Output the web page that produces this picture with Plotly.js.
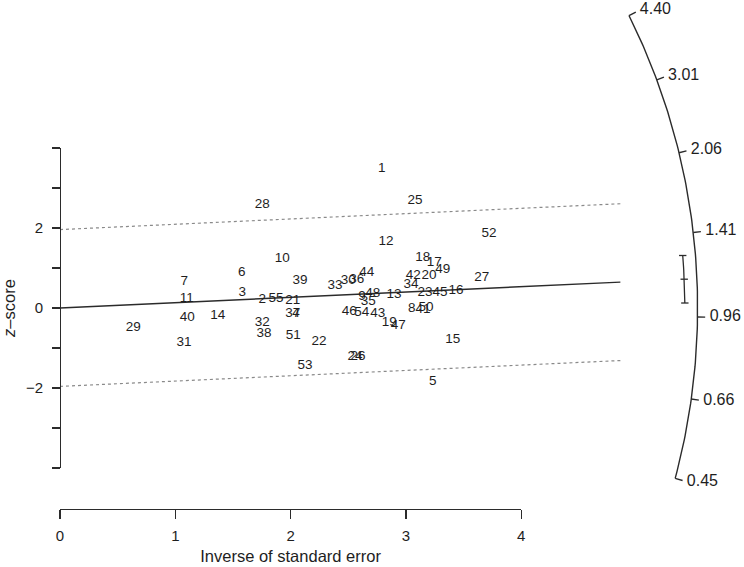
<!DOCTYPE html>
<html><head><meta charset="utf-8">
<script src="https://cdn.plot.ly/plotly-3.0.1.min.js"></script>
<style>html,body{margin:0;padding:0;background:#fff}</style>
</head><body><div id="chart" style="width:744px;height:567px"></div>
<script>
// ---- data ----
const studyIds = ["1","2","3","4","5","6","7","8","9","10","11","12","13","14","15","16","17","18","19","20",
  "21","22","23","24","25","26","27","28","29","30","31","32","33","34","35","36","37","38","39","40",
  "41","42","43","44","45","46","47","48","49","50","51","52","53","54","55"];
const invSE = [2.790,1.755,1.581,2.047,3.232,1.576,1.078,3.050,2.619,1.928,1.099,2.827,2.897,1.368,3.406,3.434,3.246,3.146,2.856,3.200,
  2.018,2.246,3.166,2.559,3.079,2.585,3.657,1.755,0.636,2.500,1.075,1.755,2.385,3.044,2.674,2.573,2.018,1.769,2.082,1.104,
  3.148,3.064,2.755,2.660,3.296,2.509,2.934,2.712,3.319,3.174,2.023,3.721,2.125,2.617,1.873];
const zScore = [3.49,0.20,0.39,-0.13,-1.83,0.88,0.66,-0.01,0.28,1.23,0.24,1.66,0.33,-0.18,-0.78,0.43,1.13,1.27,-0.36,0.81,
  0.18,-0.84,0.38,-1.22,2.68,-1.22,0.77,2.59,-0.49,0.68,-0.87,-0.37,0.56,0.58,0.16,0.70,-0.13,-0.63,0.68,-0.23,
  -0.04,0.81,-0.15,0.88,0.38,-0.09,-0.44,0.35,0.97,0.02,-0.68,1.87,-1.45,-0.11,0.24];
const pooledLogOR = 0.133;          // slope of the solid line
const pooledCI = [0.023, 0.243];    // CI of the pooled estimate (log scale)
const zCrit = 1.96;
const xTickVals = [0,1,2,3,4];
const yTickVals = [-4,-3,-2,-1,0,1,2,3,4];
const yTickText = ["","","\u22122","","0","","2","",""];
const arcTickLabels = ["4.40","3.01","2.06","1.41","0.96","0.66","0.45"];

// ---- geometry (layout constants) ----
const W = 744, H = 567;
const pxPerX = 115.3, pxPerY = 40, x0px = 60, y0px = 308;
const xRange = [-x0px/pxPerX, (W-x0px)/pxPerX];
const yRange = [-(H-y0px)/pxPerY, y0px/pxPerY];
const lineEnd = 4.86;
const arcA = 5.53, arcB = 16.2;     // arc semi-axes in data units
function arcPoint(slope, k){ const t = Math.atan(slope*arcA/arcB); return [k*arcA*Math.cos(t), k*arcB*Math.sin(t)]; }

const arcTickVals = arcTickLabels.map(Number).map(Math.log);
const sMin = Math.min(...arcTickVals), sMax = Math.max(...arcTickVals);
const arcX = [], arcY = [];
for (let i=0;i<=120;i++){ const p = arcPoint(sMax + (sMin-sMax)*i/120, 1); arcX.push(p[0]); arcY.push(p[1]); }
const tickX = [], tickY = [], labX = [], labY = [];
arcTickVals.forEach(s=>{ const a=arcPoint(s,1), b=arcPoint(s,1.012), c=arcPoint(s,1.019);
  tickX.push(a[0],b[0],null); tickY.push(a[1],b[1],null); labX.push(c[0]); labY.push(c[1]); });
// CI marker
const kCI = 0.98, capHalf = 0.032;
const ciX = [], ciY = [];
for (let i=0;i<=20;i++){ const p = arcPoint(pooledCI[0] + (pooledCI[1]-pooledCI[0])*i/20, kCI); ciX.push(p[0]); ciY.push(p[1]); }
ciX.push(null); ciY.push(null);
[pooledCI[0], pooledLogOR, pooledCI[1]].forEach(s=>{ const p = arcPoint(s,kCI); ciX.push(p[0]-capHalf,p[0]+capHalf,null); ciY.push(p[1],p[1],null); });

const font = "Liberation Sans, Arial, Helvetica, sans-serif";
const ink = "#2b2b2b";
const traces = [
  {x:[0,lineEnd], y:[zCrit, zCrit+pooledLogOR*lineEnd], mode:"lines", line:{color:"#8a8a8a", width:1.2, dash:"dot"}, hoverinfo:"skip"},
  {x:[0,lineEnd], y:[-zCrit, -zCrit+pooledLogOR*lineEnd], mode:"lines", line:{color:"#8a8a8a", width:1.2, dash:"dot"}, hoverinfo:"skip"},
  {x:[0,lineEnd], y:[0, pooledLogOR*lineEnd], mode:"lines", line:{color:ink, width:1.4}, hoverinfo:"skip"},
  {x:invSE, y:zScore, text:studyIds, mode:"text", textfont:{family:font, size:13.5, color:"#1e1e1e"}, cliponaxis:false},
  {x:arcX, y:arcY, mode:"lines", line:{color:ink, width:1.4}, hoverinfo:"skip"},
  {x:tickX, y:tickY, mode:"lines", line:{color:ink, width:1.4}, hoverinfo:"skip"},
  {x:labX, y:labY, text:arcTickLabels, mode:"text", textposition:"middle right", textfont:{family:font, size:16, color:"#1e1e1e"}, cliponaxis:false},
  {x:ciX, y:ciY, mode:"lines", line:{color:ink, width:1.3}, hoverinfo:"skip"},
  {x:[], y:[], xaxis:"x2", yaxis:"y2", mode:"markers"}
];
const layout = {
  width:W, height:H, margin:{l:0,r:0,t:0,b:0}, showlegend:false,
  paper_bgcolor:"#fff", plot_bgcolor:"rgba(0,0,0,0)",
  font:{family:font, color:"#1e1e1e", size:15},
  xaxis:{range:xRange, domain:[0,1], visible:false, fixedrange:true},
  yaxis:{range:yRange, domain:[0,1], visible:false, fixedrange:true},
  xaxis2:{range:[0,4], domain:[x0px/W, (x0px+4*pxPerX)/W], anchor:"free", position:(H-509)/H,
    showline:true, linecolor:ink, linewidth:1.4, ticks:"outside", ticklen:9, tickwidth:1.4, tickcolor:ink,
    tickvals:xTickVals, showgrid:false, zeroline:false, tickfont:{size:15}, ticklabelstandoff:4,
    title:{text:"Inverse of standard error", font:{size:16.5}, standoff:7}},
  yaxis2:{range:[-4,4], domain:[(H-(y0px+4*pxPerY))/H, (H-(y0px-4*pxPerY))/H], anchor:"free", position:x0px/W,
    showline:true, linecolor:ink, linewidth:1.4, ticks:"outside", ticklen:8, tickwidth:1.4, tickcolor:ink,
    tickvals:yTickVals, ticktext:yTickText, showgrid:false, zeroline:false, tickfont:{size:15}, ticklabelstandoff:6,
    title:{text:"<i>z</i>\u2013score", font:{size:16.5}, standoff:8}}
};
Plotly.newPlot("chart", traces, layout, {staticPlot:true});
</script></body></html>
